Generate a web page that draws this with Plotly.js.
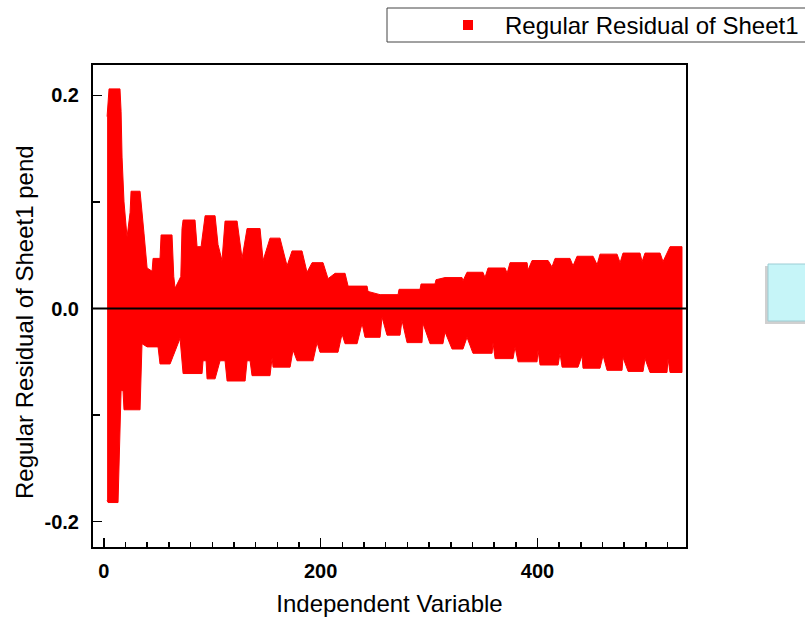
<!DOCTYPE html>
<html>
<head>
<meta charset="utf-8">
<script src="https://cdn.plot.ly/plotly-3.0.1.min.js"></script>
<style>html,body{margin:0;padding:0;background:#fff;}#chart{width:805px;height:619px;}</style>
</head>
<body>
<div id="chart"></div>
<script>
// Upper edge of the residual band (Independent Variable, residual)
var upperX = [3.0, 4.8, 14.9, 15.9, 16.8, 18.6, 21.4, 24.2, 25.1, 33.4, 37.1, 39.9, 44.5, 45.4, 51.8, 52.8, 62.9, 64.5, 65.7, 71.0, 72.1, 73.1, 84.1, 86.0, 89.7, 91.5, 93.4, 102.6, 105.3, 109.0, 111.8, 122.9, 127.5, 132.1, 144.1, 146.9, 153.3, 162.5, 169.0, 173.6, 182.8, 187.4, 192.1, 202.2, 206.8, 213.3, 222.5, 225.3, 242.8, 243.7, 254.8, 271.4, 272.3, 291.7, 292.6, 305.5, 306.4, 314.7, 330.4, 331.3, 335.0, 349.7, 351.6, 354.4, 370.1, 372.0, 374.7, 390.4, 391.3, 395.0, 409.8, 413.4, 416.2, 430.0, 432.8, 436.5, 451.3, 455.0, 457.7, 473.4, 476.2, 478.9, 494.6, 496.5, 499.2, 513.1, 515.8, 519.5, 522.3, 533.3];
var upperY = [0.180, 0.206, 0.206, 0.185, 0.142, 0.100, 0.067, 0.090, 0.110, 0.110, 0.070, 0.038, 0.035, 0.047, 0.047, 0.069, 0.069, 0.030, 0.019, 0.030, 0.075, 0.083, 0.083, 0.058, 0.058, 0.075, 0.087, 0.087, 0.060, 0.045, 0.082, 0.082, 0.047, 0.075, 0.075, 0.045, 0.066, 0.066, 0.040, 0.054, 0.054, 0.034, 0.043, 0.043, 0.028, 0.033, 0.033, 0.021, 0.021, 0.016, 0.013, 0.013, 0.018, 0.018, 0.023, 0.023, 0.027, 0.029, 0.029, 0.026, 0.034, 0.034, 0.029, 0.038, 0.038, 0.033, 0.043, 0.043, 0.036, 0.045, 0.045, 0.039, 0.047, 0.047, 0.040, 0.049, 0.049, 0.041, 0.051, 0.051, 0.043, 0.052, 0.052, 0.044, 0.052, 0.052, 0.044, 0.052, 0.058, 0.058];
// Lower edge of the residual band
var lowerX = [3.0, 3.9, 13.1, 14.0, 14.9, 15.9, 17.7, 18.6, 33.4, 35.2, 39.9, 50.0, 51.8, 61.1, 63.8, 65.7, 70.3, 73.1, 90.6, 91.5, 94.3, 95.2, 102.6, 107.2, 111.8, 113.7, 130.3, 132.1, 134.9, 136.7, 153.3, 155.2, 156.1, 171.8, 174.5, 178.2, 193.0, 196.7, 199.4, 216.0, 219.7, 222.5, 233.6, 238.2, 240.9, 254.8, 256.6, 261.2, 273.2, 275.0, 279.7, 293.5, 294.4, 300.9, 312.8, 314.7, 321.2, 331.3, 335.0, 340.5, 358.1, 359.0, 360.9, 377.5, 379.3, 382.1, 399.6, 400.5, 402.4, 419.0, 420.8, 422.7, 437.4, 441.1, 442.0, 457.7, 460.5, 464.2, 478.0, 478.9, 483.6, 497.4, 499.2, 503.8, 519.5, 520.4, 522.3, 533.3];
var lowerY = [-0.180, -0.182, -0.182, -0.140, -0.110, -0.077, -0.077, -0.095, -0.095, -0.033, -0.036, -0.036, -0.052, -0.052, -0.045, -0.039, -0.028, -0.061, -0.061, -0.049, -0.049, -0.066, -0.066, -0.049, -0.049, -0.068, -0.068, -0.049, -0.049, -0.063, -0.063, -0.046, -0.055, -0.055, -0.039, -0.049, -0.049, -0.032, -0.041, -0.041, -0.024, -0.033, -0.033, -0.014, -0.027, -0.027, -0.008, -0.025, -0.025, -0.011, -0.032, -0.032, -0.014, -0.033, -0.033, -0.022, -0.038, -0.038, -0.027, -0.042, -0.042, -0.032, -0.047, -0.047, -0.036, -0.050, -0.050, -0.039, -0.053, -0.053, -0.042, -0.055, -0.055, -0.044, -0.056, -0.056, -0.044, -0.058, -0.058, -0.046, -0.059, -0.059, -0.047, -0.060, -0.060, -0.047, -0.060, -0.060];

var seriesName = "Regular Residual of Sheet1";
var xTitle = "Independent Variable";
var yTitle = "Regular Residual of Sheet1 pend";
var yTickVals = [-0.2, 0.0, 0.2];
var yTickText = ["-0.2", "0.0", "0.2"];
var xTickVals = [0, 200, 400];

var bandX = upperX.concat(lowerX.slice().reverse());
var bandY = upperY.concat(lowerY.slice().reverse());

var trace = {
  type: 'scatter', mode: 'lines', x: bandX, y: bandY,
  fill: 'toself', fillcolor: '#ff0000',
  line: {color: '#ff0000', width: 1},
  name: seriesName, showlegend: false, hoverinfo: 'skip'
};

// plot area in pixels: left 93, right 686, top 65, bottom 547
function px(p){ return (p - 93) / 593; }
function py(p){ return (547 - p) / 482; }

var font = 'Liberation Sans, Arial, sans-serif';

var layout = {
  width: 805, height: 619,
  margin: {l: 93, r: 119, t: 65, b: 72, pad: 0},
  paper_bgcolor: '#ffffff', plot_bgcolor: '#ffffff',
  showlegend: false,
  xaxis: {
    range: [-10, 537], showgrid: false, zeroline: false,
    showline: true, linecolor: '#000', linewidth: 2, mirror: true,
    ticks: 'inside', ticklen: 9, tickwidth: 1.5, tickcolor: '#000',
    tickvals: xTickVals, ticklabelstandoff: 5,
    tickfont: {family: font, size: 20, color: '#000', weight: 'bold'},
    minor: {dtick: 20, ticks: 'inside', ticklen: 5, tickwidth: 1.5, tickcolor: '#000', showgrid: false},
    title: {text: xTitle, font: {family: font, size: 24, color: '#000'}, standoff: 14}
  },
  yaxis: {
    range: [-0.2237, 0.2284], showgrid: false, zeroline: false,
    showline: true, linecolor: '#000', linewidth: 2, mirror: true,
    ticks: 'inside', ticklen: 9, tickwidth: 1.5, tickcolor: '#000',
    tickvals: yTickVals, ticktext: yTickText, ticklabelstandoff: 8,
    tickfont: {family: font, size: 20, color: '#000', weight: 'bold'},
    minor: {dtick: 0.1, tick0: 0, ticks: 'inside', ticklen: 7, tickwidth: 1.5, tickcolor: '#000', showgrid: false}
  },
  shapes: [
    {type: 'line', xref: 'paper', yref: 'y', x0: 0, x1: 1, y0: 0, y1: 0, line: {color: '#000', width: 2}, layer: 'above'},
    // legend box
    {type: 'rect', xref: 'paper', yref: 'paper', x0: px(387), x1: px(812), y0: py(42), y1: py(8), line: {color: '#444', width: 1}, fillcolor: '#fff'},
    {type: 'rect', xref: 'paper', yref: 'paper', x0: px(463), x1: px(473), y0: py(30), y1: py(20), line: {width: 0}, fillcolor: '#ff0000'},
    // cyan box with shadow
    {type: 'rect', xref: 'paper', yref: 'paper', x0: px(765), x1: px(812), y0: py(324), y1: py(266), line: {width: 0}, fillcolor: 'rgba(150,150,150,0.45)'},
    {type: 'rect', xref: 'paper', yref: 'paper', x0: px(768), x1: px(812), y0: py(321), y1: py(264), line: {color: '#9ccdd4', width: 1}, fillcolor: '#c6f5f8'}
  ],
  annotations: [
    {xref: 'paper', yref: 'paper', x: px(503), y: py(25), xanchor: 'left', yanchor: 'middle', showarrow: false,
     text: seriesName, font: {family: font, size: 24, color: '#000'}},
    {xref: 'paper', yref: 'paper', x: px(24), y: py(322), xanchor: 'center', yanchor: 'middle', showarrow: false,
     textangle: -90, text: yTitle, font: {family: font, size: 24, color: '#000'}}
  ]
};

Plotly.newPlot('chart', [trace], layout, {staticPlot: true, displayModeBar: false});
</script>
</body>
</html>
